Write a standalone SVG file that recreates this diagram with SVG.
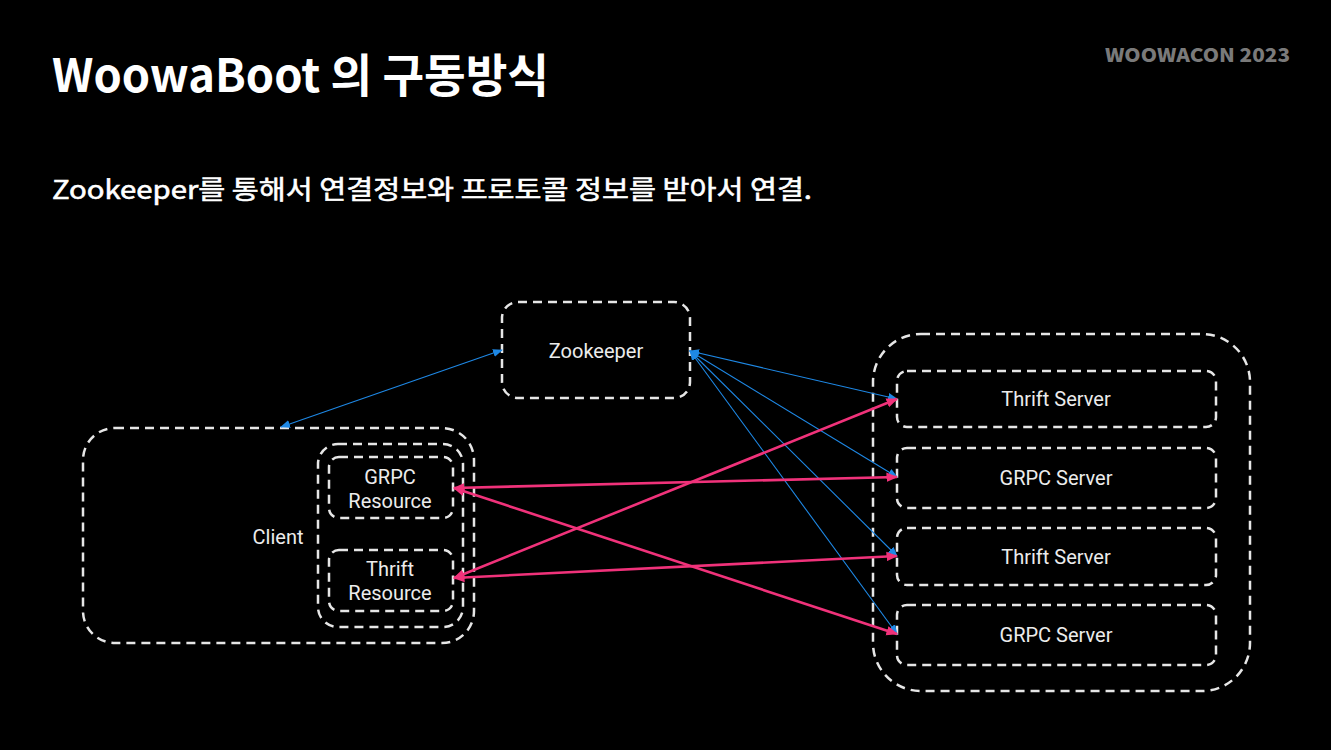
<svg xmlns="http://www.w3.org/2000/svg" width="1331" height="750" viewBox="0 0 1331 750">
<defs>
<style>
.box{fill:none;stroke:#e6e6e6;stroke-width:2.5;stroke-dasharray:9 6}
.lbl{fill:#ececec;font-family:Roboto,"Noto Sans",sans-serif;font-size:20px;text-anchor:middle}
.blue{stroke:#1e88e5;stroke-width:1.1;fill:none;marker-start:url(#ab);marker-end:url(#ab)}
.pink{stroke:#f0327a;stroke-width:2.6;fill:none;marker-start:url(#ap);marker-end:url(#ap)}
</style>
<marker id="ab" viewBox="0 0 10 10" refX="9" refY="5" markerWidth="10" markerHeight="10" markerUnits="userSpaceOnUse" orient="auto-start-reverse"><path d="M0,1 L10,5 L0,9 z" fill="#1e88e5"/></marker>
<marker id="ap" viewBox="0 0 10 10" refX="9" refY="5" markerWidth="4.5" markerHeight="4.5" orient="auto-start-reverse"><path d="M0,1 L10,5 L0,9 z" fill="#f0327a"/></marker>
</defs>
<rect width="1331" height="750" fill="#000"/>
<text x="52" y="92" font-family="Noto Sans CJK KR, Noto Sans, sans-serif" font-weight="bold" font-size="46" fill="#fff" textLength="497" lengthAdjust="spacingAndGlyphs">WoowaBoot 의 구동방식</text>
<text x="1105" y="62" font-family="Noto Sans CJK KR, Noto Sans, sans-serif" font-weight="900" font-size="19" fill="#7a7a7a" textLength="185" lengthAdjust="spacingAndGlyphs">WOOWACON 2023</text>
<text x="52" y="199" font-family="Noto Sans CJK KR, Noto Sans, sans-serif" font-weight="400" font-size="26" fill="#fff" stroke="#fff" stroke-width="0.6" textLength="760" lengthAdjust="spacingAndGlyphs">Zookeeper를 통해서 연결정보와 프로토콜 정보를 받아서 연결.</text>

<g id="zookeeper"><rect class="box" x="502" y="302" width="188" height="96" rx="16"/><text class="lbl" x="596" y="358">Zookeeper</text></g>
<g id="client"><rect class="box" x="83" y="428" width="391" height="215" rx="32"/><text class="lbl" x="278" y="544">Client</text></g>
<g id="resources"><rect class="box" x="318" y="444" width="145" height="183" rx="20"/></g>
<g id="grpc-resource"><rect class="box" x="329" y="457" width="124" height="61" rx="10"/><text class="lbl" x="390" y="484">GRPC</text><text class="lbl" x="390" y="508">Resource</text></g>
<g id="thrift-resource"><rect class="box" x="329" y="550" width="124" height="61" rx="10"/><text class="lbl" x="390" y="576">Thrift</text><text class="lbl" x="390" y="600">Resource</text></g>
<g id="servers"><rect class="box" x="873" y="334" width="377" height="357" rx="48"/></g>
<g id="thrift-server-1"><rect class="box" x="897" y="371" width="319" height="56" rx="10"/><text class="lbl" x="1056" y="406">Thrift Server</text></g>
<g id="grpc-server-1"><rect class="box" x="897" y="448" width="319" height="60" rx="10"/><text class="lbl" x="1056" y="485">GRPC Server</text></g>
<g id="thrift-server-2"><rect class="box" x="897" y="528" width="319" height="57" rx="10"/><text class="lbl" x="1056" y="564">Thrift Server</text></g>
<g id="grpc-server-2"><rect class="box" x="897" y="605" width="319" height="60" rx="10"/><text class="lbl" x="1056" y="642">GRPC Server</text></g>

<g id="connectors">
<line class="blue" x1="502" y1="350" x2="281" y2="427"/>
<line class="blue" x1="690" y1="351" x2="897" y2="399"/>
<line class="blue" x1="690" y1="351" x2="897" y2="477"/>
<line class="blue" x1="690" y1="351" x2="897" y2="556"/>
<line class="blue" x1="690" y1="351" x2="897" y2="634"/>
<line class="pink" x1="454" y1="488" x2="897" y2="477"/>
<line class="pink" x1="454" y1="488" x2="897" y2="634"/>
<line class="pink" x1="454" y1="578" x2="897" y2="399"/>
<line class="pink" x1="454" y1="578" x2="897" y2="556"/>
</g>
</svg>
